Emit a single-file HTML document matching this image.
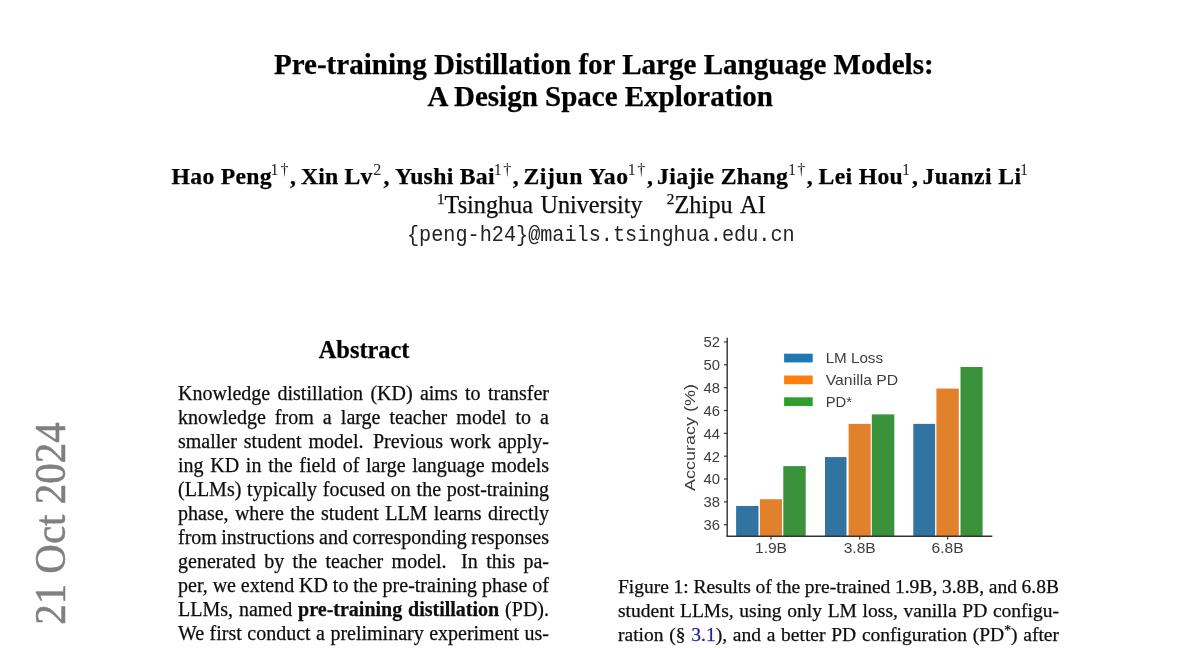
<!DOCTYPE html>
<html><head><meta charset="utf-8"><style>
html,body{margin:0;padding:0;background:#fff;overflow:hidden;}
body{width:1200px;height:648px;position:relative;overflow:hidden;}
#pg{position:absolute;left:0;top:0;width:1200px;height:648px;will-change:transform;filter:blur(0.2px);}
.l{position:absolute;white-space:nowrap;-webkit-text-stroke:0.25px currentColor;}
.l b{font-weight:bold;}
.ss{display:inline-block;width:2.5px;}
.sup{font-size:16px;font-weight:normal;vertical-align:9.2px;line-height:0;}
.sa{font-size:15.2px;vertical-align:9.5px;}
.dg{margin-left:3px;}
.sup2{font-size:70%;vertical-align:0.45em;line-height:0;}
.chart{position:absolute;left:0;top:0;}
.clipw{position:absolute;left:0;top:0;width:1200px;height:648px;overflow:hidden;}
.stamp{position:absolute;left:28.65px;top:1129.5px;font-family:"Liberation Serif",serif;font-size:44px;line-height:44px;color:#808080;-webkit-text-stroke:0.5px #808080;white-space:nowrap;transform-origin:0 0;transform:rotate(-90deg) scaleX(0.931);}
</style></head><body>
<div id="pg">
<div class="l" style="top:46.90px;left:103.80px;width:1000.00px;font-size:29.05px;line-height:35px;font-family:'Liberation Serif', serif;font-weight:bold;text-align:center;color:#000;">Pre-training Distillation for Large Language Models:</div>
<div class="l" style="top:78.72px;left:100.20px;width:1000.00px;font-size:29.0px;line-height:35px;font-family:'Liberation Serif', serif;font-weight:bold;text-align:center;color:#000;">A Design Space Exploration</div>
<div class="l" style="top:162.00px;left:171.60px;width:200.00px;font-size:23.7px;line-height:28px;font-family:'Liberation Serif', serif;font-weight:bold;text-align:left;color:#000;letter-spacing:0.28px;">Hao Peng</div>
<div class="l" style="top:162.00px;left:301.00px;width:200.00px;font-size:23.7px;line-height:28px;font-family:'Liberation Serif', serif;font-weight:bold;text-align:left;color:#000;letter-spacing:0.2px;">Xin Lv</div>
<div class="l" style="top:162.00px;left:394.90px;width:200.00px;font-size:23.7px;line-height:28px;font-family:'Liberation Serif', serif;font-weight:bold;text-align:left;color:#000;letter-spacing:0.31px;">Yushi Bai</div>
<div class="l" style="top:162.00px;left:523.40px;width:200.00px;font-size:23.7px;line-height:28px;font-family:'Liberation Serif', serif;font-weight:bold;text-align:left;color:#000;letter-spacing:0.62px;">Zijun Yao</div>
<div class="l" style="top:162.00px;left:657.10px;width:200.00px;font-size:23.7px;line-height:28px;font-family:'Liberation Serif', serif;font-weight:bold;text-align:left;color:#000;letter-spacing:0.34px;">Jiajie Zhang</div>
<div class="l" style="top:162.00px;left:818.50px;width:200.00px;font-size:23.7px;line-height:28px;font-family:'Liberation Serif', serif;font-weight:bold;text-align:left;color:#000;letter-spacing:0.33px;">Lei Hou</div>
<div class="l" style="top:162.00px;left:922.50px;width:200.00px;font-size:23.7px;line-height:28px;font-family:'Liberation Serif', serif;font-weight:bold;text-align:left;color:#000;letter-spacing:0.39px;">Juanzi Li</div>
<div class="l" style="top:159.90px;left:270.50px;width:20.00px;font-size:16px;line-height:19px;font-family:'Liberation Serif', serif;font-weight:normal;text-align:left;color:#222;-webkit-text-stroke:0;">1</div>
<div class="l" style="top:159.90px;left:280.50px;width:20.00px;font-size:16px;line-height:19px;font-family:'Liberation Serif', serif;font-weight:normal;text-align:left;color:#222;-webkit-text-stroke:0;">†</div>
<div class="l" style="top:159.90px;left:373.20px;width:20.00px;font-size:16px;line-height:19px;font-family:'Liberation Serif', serif;font-weight:normal;text-align:left;color:#222;-webkit-text-stroke:0;">2</div>
<div class="l" style="top:159.90px;left:493.70px;width:20.00px;font-size:16px;line-height:19px;font-family:'Liberation Serif', serif;font-weight:normal;text-align:left;color:#222;-webkit-text-stroke:0;">1</div>
<div class="l" style="top:159.90px;left:503.30px;width:20.00px;font-size:16px;line-height:19px;font-family:'Liberation Serif', serif;font-weight:normal;text-align:left;color:#222;-webkit-text-stroke:0;">†</div>
<div class="l" style="top:159.90px;left:627.80px;width:20.00px;font-size:16px;line-height:19px;font-family:'Liberation Serif', serif;font-weight:normal;text-align:left;color:#222;-webkit-text-stroke:0;">1</div>
<div class="l" style="top:159.90px;left:637.30px;width:20.00px;font-size:16px;line-height:19px;font-family:'Liberation Serif', serif;font-weight:normal;text-align:left;color:#222;-webkit-text-stroke:0;">†</div>
<div class="l" style="top:159.90px;left:787.90px;width:20.00px;font-size:16px;line-height:19px;font-family:'Liberation Serif', serif;font-weight:normal;text-align:left;color:#222;-webkit-text-stroke:0;">1</div>
<div class="l" style="top:159.90px;left:797.30px;width:20.00px;font-size:16px;line-height:19px;font-family:'Liberation Serif', serif;font-weight:normal;text-align:left;color:#222;-webkit-text-stroke:0;">†</div>
<div class="l" style="top:159.90px;left:902.00px;width:20.00px;font-size:16px;line-height:19px;font-family:'Liberation Serif', serif;font-weight:normal;text-align:left;color:#222;-webkit-text-stroke:0;">1</div>
<div class="l" style="top:159.90px;left:1020.00px;width:20.00px;font-size:16px;line-height:19px;font-family:'Liberation Serif', serif;font-weight:normal;text-align:left;color:#222;-webkit-text-stroke:0;">1</div>
<div class="l" style="top:162.00px;left:289.90px;width:20.00px;font-size:23.7px;line-height:28px;font-family:'Liberation Serif', serif;font-weight:bold;text-align:left;color:#000;">,</div>
<div class="l" style="top:162.00px;left:383.50px;width:20.00px;font-size:23.7px;line-height:28px;font-family:'Liberation Serif', serif;font-weight:bold;text-align:left;color:#000;">,</div>
<div class="l" style="top:162.00px;left:512.70px;width:20.00px;font-size:23.7px;line-height:28px;font-family:'Liberation Serif', serif;font-weight:bold;text-align:left;color:#000;">,</div>
<div class="l" style="top:162.00px;left:647.10px;width:20.00px;font-size:23.7px;line-height:28px;font-family:'Liberation Serif', serif;font-weight:bold;text-align:left;color:#000;">,</div>
<div class="l" style="top:162.00px;left:806.70px;width:20.00px;font-size:23.7px;line-height:28px;font-family:'Liberation Serif', serif;font-weight:bold;text-align:left;color:#000;">,</div>
<div class="l" style="top:162.00px;left:912.10px;width:20.00px;font-size:23.7px;line-height:28px;font-family:'Liberation Serif', serif;font-weight:bold;text-align:left;color:#000;">,</div>
<div class="l" style="top:189.63px;left:437.00px;width:300.00px;font-size:24.2px;line-height:29px;font-family:'Liberation Serif', serif;font-weight:normal;text-align:left;color:#0d0d0d;word-spacing:1.5px;"><span class="sup sa">1</span>Tsinghua University</div>
<div class="l" style="top:189.63px;left:666.80px;width:300.00px;font-size:24.2px;line-height:29px;font-family:'Liberation Serif', serif;font-weight:normal;text-align:left;color:#0d0d0d;word-spacing:2.5px;letter-spacing:0.1px;"><span class="sup sa">2</span>Zhipu AI</div>
<div class="l" style="top:223.82px;left:100.85px;width:1000.00px;font-size:20.2px;line-height:24px;font-family:'Liberation Mono', monospace;font-weight:normal;text-align:center;color:#222;-webkit-text-stroke:0;transform:scaleY(1.05);transform-origin:0 18px;">{peng-h24}@mails.tsinghua.edu.cn</div>
<div class="l" style="top:334.77px;left:-135.90px;width:1000.00px;font-size:24.4px;line-height:29px;font-family:'Liberation Serif', serif;font-weight:bold;text-align:center;color:#000;">Abstract</div>
<div class="l" style="top:380.65px;left:178.00px;width:371.00px;font-size:20px;line-height:24px;font-family:'Liberation Serif', serif;font-weight:normal;text-align:justify;color:#0d0d0d;text-align-last:justify;">Knowledge distillation (KD) aims to transfer</div>
<div class="l" style="top:404.66px;left:178.00px;width:371.00px;font-size:20px;line-height:24px;font-family:'Liberation Serif', serif;font-weight:normal;text-align:justify;color:#0d0d0d;text-align-last:justify;">knowledge from a large teacher model to a</div>
<div class="l" style="top:428.67px;left:178.00px;width:371.00px;font-size:20px;line-height:24px;font-family:'Liberation Serif', serif;font-weight:normal;text-align:justify;color:#0d0d0d;text-align-last:justify;">smaller student model.<span class="ss"></span> Previous work apply-</div>
<div class="l" style="top:452.68px;left:178.00px;width:371.00px;font-size:20px;line-height:24px;font-family:'Liberation Serif', serif;font-weight:normal;text-align:justify;color:#0d0d0d;text-align-last:justify;">ing KD in the field of large language models</div>
<div class="l" style="top:476.69px;left:178.00px;width:371.00px;font-size:20px;line-height:24px;font-family:'Liberation Serif', serif;font-weight:normal;text-align:justify;color:#0d0d0d;text-align-last:justify;">(LLMs) typically focused on the post-training</div>
<div class="l" style="top:500.70px;left:178.00px;width:371.00px;font-size:20px;line-height:24px;font-family:'Liberation Serif', serif;font-weight:normal;text-align:justify;color:#0d0d0d;text-align-last:justify;">phase, where the student LLM learns directly</div>
<div class="l" style="top:524.71px;left:178.00px;width:371.00px;font-size:20px;line-height:24px;font-family:'Liberation Serif', serif;font-weight:normal;text-align:justify;color:#0d0d0d;text-align-last:justify;word-spacing:-1px;">from instructions and corresponding responses</div>
<div class="l" style="top:548.72px;left:178.00px;width:371.00px;font-size:20px;line-height:24px;font-family:'Liberation Serif', serif;font-weight:normal;text-align:justify;color:#0d0d0d;text-align-last:justify;">generated by the teacher model.<span class="ss" style="width:6px"></span> In this pa-</div>
<div class="l" style="top:572.73px;left:178.00px;width:371.00px;font-size:20px;line-height:24px;font-family:'Liberation Serif', serif;font-weight:normal;text-align:justify;color:#0d0d0d;text-align-last:justify;word-spacing:-1px;">per, we extend KD to the pre-training phase of</div>
<div class="l" style="top:596.74px;left:178.00px;width:371.00px;font-size:20px;line-height:24px;font-family:'Liberation Serif', serif;font-weight:normal;text-align:justify;color:#0d0d0d;text-align-last:justify;">LLMs, named <b>pre-training distillation</b> (PD).</div>
<div class="l" style="top:620.75px;left:178.00px;width:371.00px;font-size:20px;line-height:24px;font-family:'Liberation Serif', serif;font-weight:normal;text-align:justify;color:#0d0d0d;text-align-last:justify;">We first conduct a preliminary experiment us-</div>
<div class="l" style="top:574.92px;left:618.00px;width:441.00px;font-size:19.5px;line-height:23px;font-family:'Liberation Serif', serif;font-weight:normal;text-align:justify;color:#0d0d0d;text-align-last:justify;word-spacing:-1px;">Figure 1: Results of the pre-trained 1.9B, 3.8B, and 6.8B</div>
<div class="l" style="top:599.12px;left:618.00px;width:441.00px;font-size:19.5px;line-height:23px;font-family:'Liberation Serif', serif;font-weight:normal;text-align:justify;color:#0d0d0d;text-align-last:justify;">student LLMs, using only LM loss, vanilla PD configu-</div>
<div class="l" style="top:623.32px;left:618.00px;width:441.00px;font-size:19.5px;line-height:23px;font-family:'Liberation Serif', serif;font-weight:normal;text-align:justify;color:#0d0d0d;text-align-last:justify;">ration (§ <span style="color:#2020a0">3.1</span>), and a better PD configuration (PD<span class="sup2">*</span>) after</div>
<div class="clipw"><div class="stamp">arXiv:2410.16215v1&nbsp; [cs.CL]&nbsp; <span id="sd">21 Oct 2024</span></div></div>
<svg class="chart" width="1200" height="648" viewBox="0 0 1200 648">
<rect x="736.10" y="505.97" width="22.40" height="30.23" fill="#3274a1"/>
<rect x="759.90" y="499.23" width="22.10" height="36.97" fill="#e1812c"/>
<rect x="783.30" y="466.12" width="22.40" height="70.08" fill="#3a923a"/>
<rect x="825.00" y="457.09" width="21.50" height="79.11" fill="#3274a1"/>
<rect x="848.60" y="423.86" width="22.10" height="112.34" fill="#e1812c"/>
<rect x="871.80" y="414.38" width="22.50" height="121.82" fill="#3a923a"/>
<rect x="913.30" y="423.86" width="21.80" height="112.34" fill="#3274a1"/>
<rect x="936.40" y="388.57" width="22.40" height="147.63" fill="#e1812c"/>
<rect x="960.50" y="366.99" width="22.10" height="169.21" fill="#3a923a"/>
<line x1="727.2" y1="337.8" x2="727.2" y2="536.8" stroke="#333" stroke-width="1.4"/>
<line x1="726.5" y1="536.2" x2="992.3" y2="536.2" stroke="#333" stroke-width="1.4"/>
<line x1="724" y1="524.70" x2="727.2" y2="524.70" stroke="#333" stroke-width="1.2"/>
<text x="720" y="530.10" text-anchor="end" font-family="Liberation Sans" font-size="14.8" fill="#3d3d3d" textLength="16.5" lengthAdjust="spacingAndGlyphs">36</text>
<line x1="724" y1="501.86" x2="727.2" y2="501.86" stroke="#333" stroke-width="1.2"/>
<text x="720" y="507.26" text-anchor="end" font-family="Liberation Sans" font-size="14.8" fill="#3d3d3d" textLength="16.5" lengthAdjust="spacingAndGlyphs">38</text>
<line x1="724" y1="479.02" x2="727.2" y2="479.02" stroke="#333" stroke-width="1.2"/>
<text x="720" y="484.42" text-anchor="end" font-family="Liberation Sans" font-size="14.8" fill="#3d3d3d" textLength="16.5" lengthAdjust="spacingAndGlyphs">40</text>
<line x1="724" y1="456.18" x2="727.2" y2="456.18" stroke="#333" stroke-width="1.2"/>
<text x="720" y="461.58" text-anchor="end" font-family="Liberation Sans" font-size="14.8" fill="#3d3d3d" textLength="16.5" lengthAdjust="spacingAndGlyphs">42</text>
<line x1="724" y1="433.34" x2="727.2" y2="433.34" stroke="#333" stroke-width="1.2"/>
<text x="720" y="438.74" text-anchor="end" font-family="Liberation Sans" font-size="14.8" fill="#3d3d3d" textLength="16.5" lengthAdjust="spacingAndGlyphs">44</text>
<line x1="724" y1="410.50" x2="727.2" y2="410.50" stroke="#333" stroke-width="1.2"/>
<text x="720" y="415.90" text-anchor="end" font-family="Liberation Sans" font-size="14.8" fill="#3d3d3d" textLength="16.5" lengthAdjust="spacingAndGlyphs">46</text>
<line x1="724" y1="387.66" x2="727.2" y2="387.66" stroke="#333" stroke-width="1.2"/>
<text x="720" y="393.06" text-anchor="end" font-family="Liberation Sans" font-size="14.8" fill="#3d3d3d" textLength="16.5" lengthAdjust="spacingAndGlyphs">48</text>
<line x1="724" y1="364.82" x2="727.2" y2="364.82" stroke="#333" stroke-width="1.2"/>
<text x="720" y="370.22" text-anchor="end" font-family="Liberation Sans" font-size="14.8" fill="#3d3d3d" textLength="16.5" lengthAdjust="spacingAndGlyphs">50</text>
<line x1="724" y1="341.98" x2="727.2" y2="341.98" stroke="#333" stroke-width="1.2"/>
<text x="720" y="347.38" text-anchor="end" font-family="Liberation Sans" font-size="14.8" fill="#3d3d3d" textLength="16.5" lengthAdjust="spacingAndGlyphs">52</text>
<line x1="771" y1="536.2" x2="771" y2="539.5" stroke="#333" stroke-width="1.2"/>
<text x="771.00" y="553" text-anchor="middle" font-family="Liberation Sans" font-size="15.2" fill="#3d3d3d" textLength="32" lengthAdjust="spacingAndGlyphs">1.9B</text>
<line x1="859.7" y1="536.2" x2="859.7" y2="539.5" stroke="#333" stroke-width="1.2"/>
<text x="859.70" y="553" text-anchor="middle" font-family="Liberation Sans" font-size="15.2" fill="#3d3d3d" textLength="32" lengthAdjust="spacingAndGlyphs">3.8B</text>
<line x1="947.6" y1="536.2" x2="947.6" y2="539.5" stroke="#333" stroke-width="1.2"/>
<text x="947.60" y="553" text-anchor="middle" font-family="Liberation Sans" font-size="15.2" fill="#3d3d3d" textLength="32" lengthAdjust="spacingAndGlyphs">6.8B</text>
<text transform="translate(695 437.6) rotate(-90)" text-anchor="middle" font-family="Liberation Sans" font-size="15" fill="#3d3d3d" textLength="107" lengthAdjust="spacingAndGlyphs">Accuracy (%)</text>
<rect x="784.1" y="353.70" width="28.6" height="8.7" fill="#1f77b4"/>
<text x="825.7" y="363.00" font-family="Liberation Sans" font-size="14.4" fill="#3d3d3d" textLength="57.3" lengthAdjust="spacingAndGlyphs">LM Loss</text>
<rect x="784.1" y="375.50" width="28.6" height="8.7" fill="#ff7f0e"/>
<text x="825.7" y="384.80" font-family="Liberation Sans" font-size="14.4" fill="#3d3d3d" textLength="72.6" lengthAdjust="spacingAndGlyphs">Vanilla PD</text>
<rect x="784.1" y="397.30" width="28.6" height="8.7" fill="#2ca02c"/>
<text x="825.7" y="406.60" font-family="Liberation Sans" font-size="14.4" fill="#3d3d3d" textLength="26.3" lengthAdjust="spacingAndGlyphs">PD*</text>
</svg>
</div>
</body></html>
